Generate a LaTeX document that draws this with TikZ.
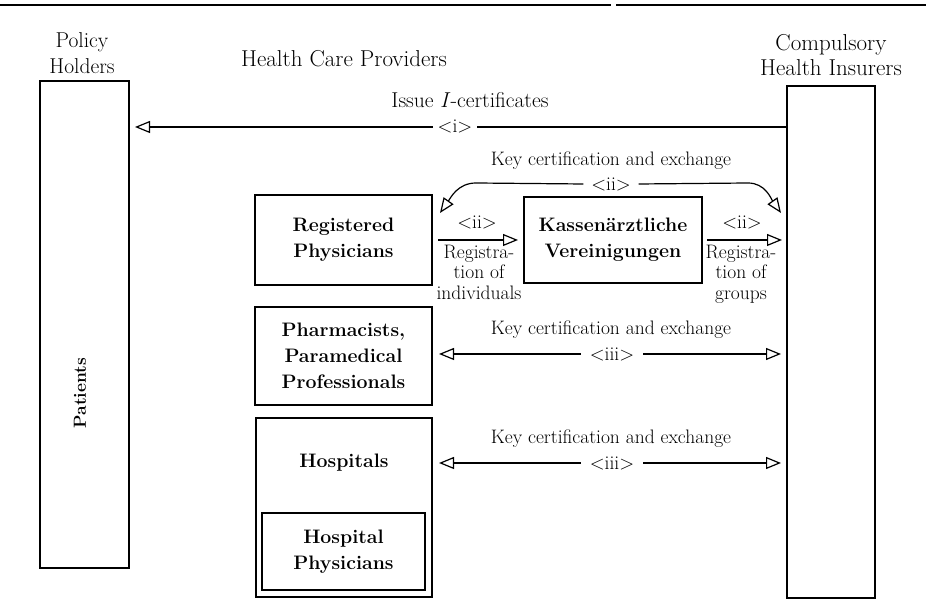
\documentclass[tikz,border=0pt]{standalone}
\usetikzlibrary{arrows.meta,calc}
\newcommand\hdfont{\fontsize{23}{25.5}\selectfont}
\newcommand\lbfont{\fontsize{19.5}{20.5}\selectfont}
\newcommand\bxfont{\fontsize{19.5}{26}\selectfont\bfseries}
\begin{document}
\begin{tikzpicture}[x=1pt,y=1pt,
  every node/.style={inner sep=0pt, outer sep=0pt},
  box/.style={draw, line width=1.4pt, font=\bxfont, align=center},
  head/.style={font=\hdfont, align=center},
  lab/.style={font=\lbfont, align=center},
  gaplab/.style={lab, fill=white, inner xsep=9pt, inner ysep=2pt},
  arr/.style={line width=1.2pt, -{Triangle[open, length=15pt, width=12pt, line width=1.2pt]}},
  dblarr/.style={line width=1.2pt, {Triangle[open, length=15pt, width=12pt, line width=1.2pt]}-{Triangle[open, length=15pt, width=12pt, line width=1.2pt]}}
]
\useasboundingbox (0,0) rectangle (926,610);

% rule over the figure
\draw[line width=1.4pt] (0,605) -- (611,605) (616,605) -- (926,605);

% column headings
\node[head, font=\fontsize{21.5}{25.5}\selectfont] (hold) at (82,557) {Policy\\Holders};
\node[head, anchor=base] (hcp) at (344,543) {Health Care Providers};
\node[head] (insh) at (831,555) {Compulsory\\Health Insurers};

% outer columns
\node[box, minimum width=89, minimum height=487] (pat) at (84.5,285.5) {};
\node[font=\fontsize{17.5}{20}\selectfont\bfseries, rotate=90] (patl) at (80,217) {Patients};
\node[box, minimum width=88, minimum height=512] (ins) at (831,268) {};

% providers
\node[box, minimum width=177, minimum height=90] (rp) at (343.5,370) {Registered\\Physicians};
\node[box, minimum width=178, minimum height=86] (kv) at (613,370) {Kassenärztliche\\Vereinigungen};
\node[box, minimum width=177, minimum height=98] (ph) at (343.5,254) {Pharmacists,\\Paramedical\\Professionals};
\node[box, minimum width=176, minimum height=179] (ho) at (344,102.5) {};
\node[font=\bxfont] (hol) at (344,147) {Hospitals};
\node[box, minimum width=163, minimum height=77] (hp) at (343.5,58.5) {Hospital\\Physicians};

% <i> issue of I-certificates
\draw[arr] (ins.west |- 0,483) -- ($(pat.east |- 0,483)+(6,0)$);
\node[lab, font=\fontsize{21.5}{24}\selectfont, anchor=base] (iss) at (470,502) {Issue \textit{I}-certificates};
\node[lab, fill=white, inner xsep=5pt, inner ysep=2pt] (i1) at (455,484) {<i>};

% <ii> key certification between physicians and insurers
\node[lab, anchor=base] (kc1) at (611,444) {Key certification and exchange};
\node[lab] (ii0) at (611,426) {<ii>};
\coordinate (cl) at ($(rp.north east)+(8,-18)$);
\coordinate (cr) at ($(ins.west |- cl)+(-6,0)$);
\draw[arr] ($(ii0.west)+(-8,0)$) -- (476,427) to[out=180,in=55] (cl);
\draw[arr] ($(ii0.east)+(8,0)$) -- (748,427) to[out=0,in=125] (cr);

% <ii> registrations
\draw[arr] ($(rp.east)+(6,0)$) -- ($(kv.west)+(-6,0)$);
\node[lab, anchor=base] (ii1) at (477,381) {<ii>};
\node[lab, anchor=north] (ri) at (479,365) {Registra-\\tion of\\individuals};
\draw[arr] ($(kv.east)+(5,0)$) -- ($(ins.west |- kv.east)+(-5,0)$);
\node[lab, anchor=base] (ii2) at (742,381) {<ii>};
\node[lab, anchor=north] (rg) at (741,365) {Registra-\\tion of\\groups};

% <iii> pharmacists and paramedical professionals
\node[lab, anchor=base] (kc2) at (611,275) {Key certification and exchange};
\draw[dblarr] ($(ph.east |- 0,256)+(7,0)$) -- ($(ins.west |- 0,256)+(-6,0)$);
\node[gaplab] (iii1) at (612,256) {<iii>};

% <iii> hospitals
\node[lab, anchor=base] (kc3) at (611,166) {Key certification and exchange};
\draw[dblarr] ($(ho.east |- 0,147)+(7,0)$) -- ($(ins.west |- 0,147)+(-6,0)$);
\node[gaplab] (iii2) at (612,147) {<iii>};
\end{tikzpicture}
\end{document}
